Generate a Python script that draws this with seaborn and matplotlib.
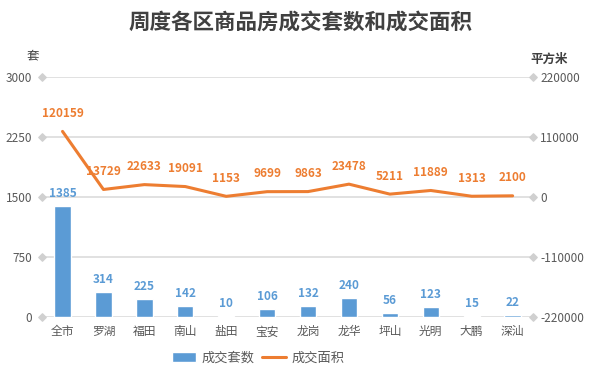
import matplotlib
matplotlib.use("Agg")
import pandas as pd
import matplotlib.pyplot as plt
import seaborn as sns

districts = ["全市", "罗湖", "福田", "南山", "盐田", "宝安", "龙岗", "龙华", "坪山", "光明", "大鹏", "深汕"]
units = [1385, 314, 225, 142, 10, 106, 132, 240, 56, 123, 15, 22]
area = [120159, 13729, 22633, 19091, 1153, 9699, 9863, 23478, 5211, 11889, 1313, 2100]
left_ticks = [0, 750, 1500, 2250, 3000]
right_ticks = [-220000, -110000, 0, 110000, 220000]

df = pd.DataFrame({"区": districts, "成交套数": units, "成交面积": area})
df["pos"] = range(len(df))

sns.set_style("white")
plt.rcParams["font.family"] = ["Noto Sans CJK SC", "DejaVu Sans"]

blue = "#5B9BD5"
orange = "#ED7D31"
grid_c = "#DCDCDC"
text_c = "#595959"

fig = plt.figure(figsize=(6.01, 3.71), dpi=100)
ax = fig.add_axes([0.070, 0.1456, 0.817, 0.647])

sns.barplot(data=df, x="区", y="成交套数", color=blue, width=0.4, saturation=1,
            ax=ax, label="成交套数", zorder=3)
ax.set_ylim(0, 3000)
ax.set_xlim(-0.5, len(districts) - 0.5)
ax.set_yticks(left_ticks)
ax.set_yticklabels([str(t) for t in left_ticks])
for t in left_ticks:
    ax.axhline(t, color=grid_c, lw=1.2, zorder=0)
ax.scatter([-0.5] * len(left_ticks), left_ticks, marker="D", s=14, color="#D0D0D0",
           clip_on=False, zorder=4)
for i, v in enumerate(units):
    ax.annotate(str(v), (i, v), xytext=(0, 9), textcoords="offset points",
                ha="center", va="center", color=blue, fontsize=8.5, fontweight="bold")

ax2 = ax.twinx()
sns.lineplot(data=df, x="pos", y="成交面积", color=orange, lw=2.2, ax=ax2,
             label="成交面积", zorder=5)
ax2.set_ylim(-220000, 220000)
ax2.set_yticks(right_ticks)
ax2.set_yticklabels([str(t) for t in right_ticks])
ax2.scatter([len(districts) - 0.5] * len(right_ticks), right_ticks, marker="D", s=14,
            color="#D0D0D0", clip_on=False, zorder=4)
for i, v in enumerate(area):
    ax2.annotate(str(v), (i, v), xytext=(0, 13), textcoords="offset points",
                 ha="center", va="center", color=orange, fontsize=8.5, fontweight="bold")

for a in (ax, ax2):
    for s in a.spines.values():
        s.set_visible(False)
    a.set_xlabel("")
    a.set_ylabel("")
    a.tick_params(length=0, labelsize=8.5, labelcolor=text_c)
ax.tick_params(axis="x", pad=6)
ax.tick_params(axis="y", pad=7)
ax2.tick_params(axis="y", pad=5)

h1, l1 = ax.get_legend_handles_labels()
h2, l2 = ax2.get_legend_handles_labels()
if ax.get_legend():
    ax.get_legend().remove()
if ax2.get_legend():
    ax2.get_legend().remove()
fig.legend(h1 + h2, l1 + l2, loc="center", bbox_to_anchor=(0.43, 0.035), ncol=2,
           frameon=False, fontsize=9.5, labelcolor=text_c, handlelength=1.8,
           handletextpad=0.4, columnspacing=0.6)

fig.text(0.5, 0.94, "周度各区商品房成交套数和成交面积", ha="center", va="center",
         fontsize=15.5, fontweight="bold", color="#404040")
fig.text(0.055, 0.85, "套", ha="center", va="center", fontsize=9, color="#404040")
fig.text(0.913, 0.84, "平方米", ha="center", va="center", fontsize=9,
         fontweight="bold", color="#404040")

fig.savefig("out.png", dpi=100)
